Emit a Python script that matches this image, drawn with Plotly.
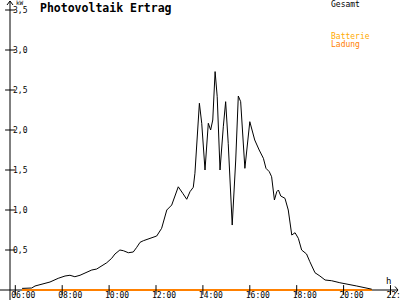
import plotly.graph_objects as go

# ---- data ----
hours = [6.29, 6.70, 6.84, 7.27, 7.48, 7.83, 8.12, 8.33, 8.54, 8.76, 9.04, 9.26, 9.47, 9.68, 9.90,
         10.11, 10.25, 10.46, 10.61, 10.82, 11.03, 11.18, 11.32, 11.46, 11.74, 12.03, 12.24, 12.46,
         12.67, 12.81, 12.95, 13.14, 13.31, 13.45, 13.59, 13.66, 13.74, 13.85, 13.95, 14.09, 14.23,
         14.33, 14.42, 14.52, 14.61, 14.73, 14.87, 14.97, 15.08, 15.25, 15.40, 15.51, 15.61, 15.79,
         16.00, 16.21, 16.40, 16.58, 16.69, 16.83, 16.93, 17.05, 17.15, 17.22, 17.32, 17.50, 17.64,
         17.79, 17.93, 18.07, 18.21, 18.42, 18.56, 18.78, 18.99, 19.21, 19.49, 19.84, 20.56, 21.20]
gesamt = [0.02, 0.025, 0.05, 0.09, 0.10, 0.146, 0.175, 0.184, 0.166, 0.184, 0.216, 0.25, 0.262, 0.30, 0.341,
          0.396, 0.45, 0.50, 0.491, 0.466, 0.475, 0.534, 0.596, 0.616, 0.646, 0.675, 0.771, 1.0,
          1.062, 1.166, 1.29, 1.209, 1.134, 1.229, 1.284, 1.459, 1.875, 2.334, 2.084, 1.50, 2.084,
          2.0, 2.125, 2.73, 2.416, 1.50, 2.04, 2.354, 1.834, 0.812, 1.625, 2.425, 2.354, 1.521,
          2.104, 1.875, 1.75, 1.646, 1.521, 1.479, 1.416, 1.125, 1.229, 1.25, 1.175, 1.146, 1.0,
          0.687, 0.716, 0.646, 0.50, 0.45, 0.354, 0.216, 0.175, 0.125, 0.116, 0.091, 0.05, 0.01]
batterie = [0.0 for _ in hours]
ladung = [0.0 for _ in hours]

x_tickvals = [6, 8, 10, 12, 14, 16, 18, 20, 22]
x_ticktext = ["06:00", "08:00", "10:00", "12:00", "14:00", "16:00", "18:00", "20:00", "22:00"]
y_tickvals = [0.5, 1.0, 1.5, 2.0, 2.5, 3.0, 3.5]
y_ticktext = ["0,5", "1,0", "1,5", "2,0", "2,5", "3,0", "3,5"]

# ---- layout geometry ----
W, H = 400, 300
X0, X1 = 5.3475, 22.405
Y0, Y1 = -0.125, 3.625
def px_x(p):
    return X0 + p / W * (X1 - X0)
def px_y(p):
    return Y1 - p / H * (Y1 - Y0)

axis_x = px_x(10)
FONT = "DejaVu Sans Mono"

fig = go.Figure()
fig.add_trace(go.Scatter(x=hours, y=batterie, mode="lines", line=dict(color="#ffaa00", width=2), hoverinfo="skip"))
fig.add_trace(go.Scatter(x=hours, y=ladung, mode="lines", line=dict(color="#ff8000", width=2), hoverinfo="skip"))
fig.add_trace(go.Scatter(x=hours, y=gesamt, mode="lines", line=dict(color="#000000", width=1), hoverinfo="skip"))

# tick crosses
fig.add_trace(go.Scatter(x=x_tickvals, y=[0] * len(x_tickvals), mode="markers",
                         marker=dict(symbol="line-ns", size=7, line=dict(color="black", width=1)),
                         hoverinfo="skip", cliponaxis=False))
fig.add_trace(go.Scatter(x=[axis_x] * len(y_tickvals), y=y_tickvals, mode="markers",
                         marker=dict(symbol="line-ew", size=7, line=dict(color="black", width=1)),
                         hoverinfo="skip", cliponaxis=False))

shapes = [
    # y axis + arrow
    dict(type="line", x0=axis_x, x1=axis_x, y0=Y0, y1=px_y(1)),
    dict(type="line", x0=axis_x, x1=px_x(7), y0=px_y(1), y1=px_y(5)),
    dict(type="line", x0=axis_x, x1=px_x(13), y0=px_y(1), y1=px_y(5)),
    # x axis + arrow
    dict(type="line", x0=X0, x1=px_x(398), y0=0, y1=0),
    dict(type="line", x0=px_x(398), x1=px_x(395), y0=0, y1=px_y(286.5)),
    dict(type="line", x0=px_x(398), x1=px_x(395), y0=0, y1=px_y(293.5)),
]
for s in shapes:
    s.update(xref="x", yref="y", line=dict(color="black", width=1), layer="below")

annotations = [
    dict(text="<b>Photovoltaik Ertrag</b>", x=px_x(38), y=px_y(7.5), xanchor="left", yanchor="middle",
         font=dict(family=FONT, size=11.5, color="black")),
    dict(text="kW", x=px_x(14), y=px_y(2.5), xanchor="left", yanchor="middle",
         font=dict(family=FONT, size=6, color="black")),
    dict(text="h", x=px_x(384), y=px_y(281), xanchor="left", yanchor="middle",
         font=dict(family=FONT, size=9, color="black")),
    dict(text="Gesamt", x=px_x(329), y=px_y(4.5), xanchor="left", yanchor="middle",
         font=dict(family=FONT, size=8, color="black")),
    dict(text="Batterie", x=px_x(329), y=px_y(36), xanchor="left", yanchor="middle",
         font=dict(family=FONT, size=8, color="#ffaa00")),
    dict(text="Ladung", x=px_x(329), y=px_y(44), xanchor="left", yanchor="middle",
         font=dict(family=FONT, size=8, color="#ff8000")),
]
for a in annotations:
    a.update(xref="x", yref="y", showarrow=False)

fig.update_layout(
    width=W, height=H, margin=dict(l=0, r=0, t=0, b=0, pad=0, autoexpand=False),
    paper_bgcolor="white", plot_bgcolor="white", showlegend=False,
    shapes=shapes, annotations=annotations,
    xaxis=dict(range=[X0, X1], showgrid=False, zeroline=False, showline=False,
               side="bottom", anchor="free", position=10 / H, automargin=False,
               tickvals=x_tickvals, ticktext=x_ticktext, ticks="",
               ticklabelposition="outside", ticklabeloverflow="allow", ticklabelshift=8,
               ticklabelstandoff=-1,
               tickfont=dict(family=FONT, size=8, color="black")),
    yaxis=dict(range=[Y0, Y1], showgrid=False, zeroline=False, showline=False,
               side="right", anchor="free", position=10 / W, automargin=False,
               tickvals=y_tickvals, ticktext=y_ticktext, ticks="",
               ticklabelposition="outside", ticklabelstandoff=2,
               tickfont=dict(family=FONT, size=8, color="black")),
)
fig.write_html("out.html")
